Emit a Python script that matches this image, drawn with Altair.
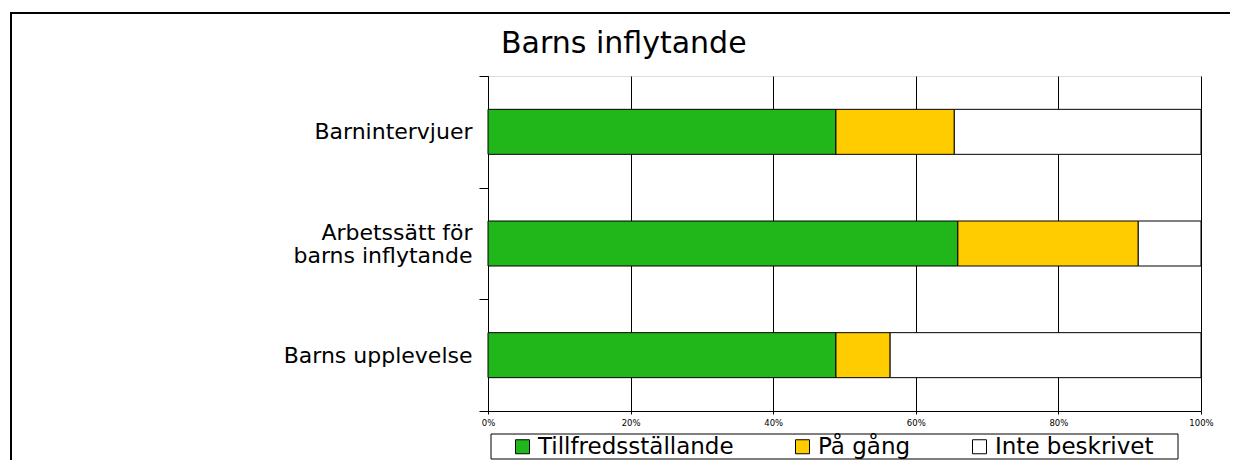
import altair as alt
import pandas as pd

title_text = "Barns inflytande"
categories = ["Barnintervjuer", "Arbetssätt för\nbarns inflytande", "Barns upplevelse"]
series = ["Tillfredsställande", "På gång", "Inte beskrivet"]
tillfredsstallande = [48.8, 65.9, 48.8]
pa_gang = [16.6, 25.3, 7.6]
inte_beskrivet = [34.6, 8.8, 43.6]
colors = ["#21b71a", "#ffcc00", "#ffffff"]
x_ticks = [0, 20, 40, 60, 80, 100]

rows = []
for i, c in enumerate(categories):
    for k, (s, vals) in enumerate(zip(series, [tillfredsstallande, pa_gang, inte_beskrivet])):
        rows.append({"kategori": c, "serie": s, "ordning": k, "varde": vals[i]})
df = pd.DataFrame(rows)

FONT = "DejaVu Sans"
LINE_H = 23

bars = alt.Chart(df).mark_bar(stroke="black", strokeWidth=1, size=45).encode(
    y=alt.Y("kategori:N", sort=categories,
            scale=alt.Scale(paddingInner=0, paddingOuter=0),
            axis=alt.Axis(title=None, labelExpr="split(datum.label, '\\n')",
                          labelFont=FONT, labelFontSize=22, labelColor="black",
                          labelLineHeight=LINE_H, labelPadding=7, labelLimit=0,
                          labelOffset={"condition": {"test": "indexof(datum.label, '\\n') >= 0",
                                                     "value": -LINE_H / 2},
                                       "value": 0},
                          tickSize=9, tickColor="black", tickBand="extent",
                          domainColor="black", grid=False)),
    x=alt.X("varde:Q", stack="zero",
            scale=alt.Scale(domain=[0, 100], nice=False),
            axis=alt.Axis(title=None, values=x_ticks, labelExpr="datum.value + '%'",
                          labelFont=FONT, labelFontSize=8.5, labelColor="black",
                          labelFlush=False, labelPadding=4, tickSize=3,
                          tickColor="black", domainColor="black", grid=True,
                          gridColor="black", gridOpacity=1, gridWidth=1)),
    fill=alt.Fill("serie:N", sort=series,
                  scale=alt.Scale(domain=series, range=colors),
                  legend=alt.Legend(title=None, orient="none", legendX=23, legendY=359,
                                    direction="horizontal", labelFont=FONT,
                                    labelFontSize=23, labelColor="black", labelLimit=0,
                                    labelOffset=4, columnPadding=57, symbolType="square",
                                    symbolSize=196, symbolStrokeColor="black",
                                    symbolStrokeWidth=1, padding=0)),
    order=alt.Order("ordning:Q"),
)

frame = alt.Chart(alt.Data(values=[{}])).mark_rect(
    fill=None, stroke="black", strokeWidth=2
).encode(x=alt.value(-477), y=alt.value(-63), x2=alt.value(900), y2=alt.value(500))

legend_box = alt.Chart(alt.Data(values=[{}])).mark_rect(
    fill="white", stroke="black", strokeWidth=1
).encode(x=alt.value(3), y=alt.value(358), x2=alt.value(690), y2=alt.value(383))

title = alt.Chart(alt.Data(values=[{"t": title_text}])).mark_text(
    font=FONT, fontSize=30, color="black", align="left", baseline="alphabetic"
).encode(text="t:N", x=alt.value(13), y=alt.value(-23))

chart = alt.layer(frame, legend_box, title, bars).properties(
    width=713, height=335,
    autosize=alt.AutoSizeParams(type="none"),
    padding={"left": 480, "top": 68, "right": 29, "bottom": 49},
).configure_view(stroke="#808080", strokeWidth=1).configure(background="white")

chart.save("out.html", embed_options={"renderer": "svg", "actions": False})
